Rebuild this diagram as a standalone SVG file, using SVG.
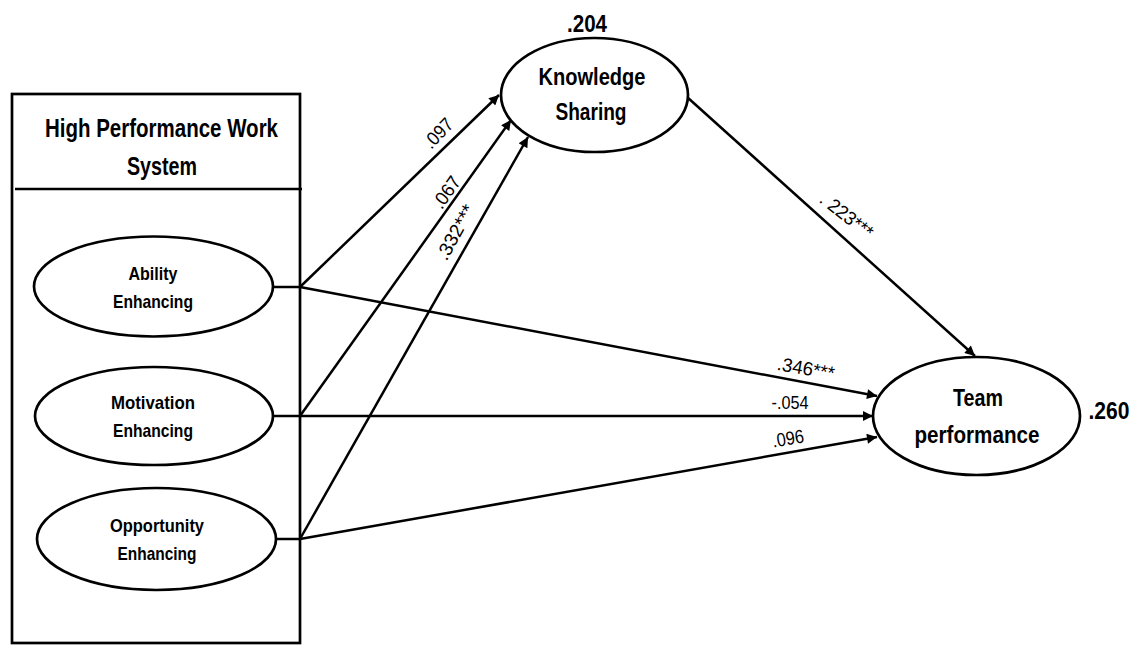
<svg xmlns="http://www.w3.org/2000/svg" width="1146" height="646" viewBox="0 0 1146 646">
  <defs>
    <marker id="arrow" viewBox="0 0 10 10" refX="10" refY="5" markerWidth="12" markerHeight="10" markerUnits="userSpaceOnUse" orient="auto">
      <path d="M0,0 L10,5 L0,10 z" fill="#000"/>
    </marker>
    <style>
      .shape { fill: #fff; stroke: #000; stroke-width: 2.7; }
      .frame { fill: none; stroke: #000; stroke-width: 2.7; }
      .edge { fill: none; stroke: #000; stroke-width: 2.5; }
      .arrowed { marker-end: url(#arrow); }
      .title { font-family: "Liberation Sans", Arial, sans-serif; font-weight: bold; font-size: 25px; text-anchor: middle; fill: #000; }
      .small { font-family: "Liberation Sans", Arial, sans-serif; font-weight: bold; font-size: 19px; text-anchor: middle; fill: #000; }
      .big { font-family: "Liberation Sans", Arial, sans-serif; font-weight: bold; font-size: 24px; text-anchor: middle; fill: #000; }
      .coef { font-family: "Liberation Sans", Arial, sans-serif; font-size: 19px; text-anchor: middle; fill: #000; }
    </style>
  </defs>
  <rect width="1146" height="646" fill="#fff"/>

  <!-- HPWS container box -->
  <g id="hpws">
    <rect class="frame" x="12" y="94" width="288" height="549"/>
    <line class="frame" x1="15" y1="189" x2="302" y2="189"/>
    <text class="title" x="161.5" y="137" textLength="233" lengthAdjust="spacingAndGlyphs">High Performance Work</text>
    <text class="title" x="162" y="175" textLength="70" lengthAdjust="spacingAndGlyphs">System</text>
  </g>

  <!-- connectors -->
  <g id="connectors">
    <line class="edge" x1="273" y1="287" x2="301" y2="287"/>
    <line class="edge" x1="273" y1="416" x2="301" y2="416"/>
    <line class="edge" x1="276" y1="539" x2="301" y2="539"/>
    <path class="edge arrowed" d="M300,287 L499,95"/>
    <path class="edge arrowed" d="M300,416 L511,120"/>
    <path class="edge arrowed" d="M300,539 L528,137"/>
    <path class="edge arrowed" d="M687,97 L975,356"/>
    <path class="edge arrowed" d="M300,287 L877,396"/>
    <path class="edge arrowed" d="M300,416 L873,416"/>
    <path class="edge arrowed" d="M300,539 L877,437"/>
  </g>

  <!-- path coefficients -->
  <g id="coefficients">
    <text class="coef" transform="translate(438,133) rotate(-46)" x="0" y="7" textLength="34" lengthAdjust="spacingAndGlyphs">.097</text>
    <text class="coef" transform="translate(446,192) rotate(-55)" x="0" y="7" textLength="35" lengthAdjust="spacingAndGlyphs">.067</text>
    <text class="coef" transform="translate(455,232) rotate(-61)" x="0" y="7" textLength="60" lengthAdjust="spacingAndGlyphs">.332***</text>
    <text class="coef" transform="translate(847,215) rotate(38)" x="0" y="7" textLength="62" lengthAdjust="spacingAndGlyphs">. 223***</text>
    <text class="coef" transform="translate(806,368) rotate(10)" x="0" y="7" textLength="58" lengthAdjust="spacingAndGlyphs">.346***</text>
    <text class="coef" x="790" y="409" textLength="37" lengthAdjust="spacingAndGlyphs">-.054</text>
    <text class="coef" transform="translate(788,438) rotate(-9)" x="0" y="7" textLength="32" lengthAdjust="spacingAndGlyphs">.096</text>
  </g>

  <g id="ability">
    <ellipse class="shape" cx="153.5" cy="286.5" rx="119.5" ry="50"/>
    <text class="small" x="153" y="280" textLength="49" lengthAdjust="spacingAndGlyphs">Ability</text>
    <text class="small" x="153" y="308" textLength="80" lengthAdjust="spacingAndGlyphs">Enhancing</text>
  </g>

  <g id="motivation">
    <ellipse class="shape" cx="154" cy="416" rx="119" ry="49"/>
    <text class="small" x="153" y="409" textLength="84" lengthAdjust="spacingAndGlyphs">Motivation</text>
    <text class="small" x="153" y="437" textLength="80" lengthAdjust="spacingAndGlyphs">Enhancing</text>
  </g>

  <g id="opportunity">
    <ellipse class="shape" cx="156.5" cy="539" rx="119.5" ry="51"/>
    <text class="small" x="157" y="532" textLength="94" lengthAdjust="spacingAndGlyphs">Opportunity</text>
    <text class="small" x="157" y="560" textLength="79" lengthAdjust="spacingAndGlyphs">Enhancing</text>
  </g>

  <g id="knowledge-sharing">
    <ellipse class="shape" cx="594.5" cy="95" rx="93.5" ry="57"/>
    <text class="big" x="592" y="85" textLength="107" lengthAdjust="spacingAndGlyphs">Knowledge</text>
    <text class="big" x="591" y="120" textLength="71" lengthAdjust="spacingAndGlyphs">Sharing</text>
    <text class="big" x="587" y="32" textLength="40" lengthAdjust="spacingAndGlyphs">.204</text>
  </g>

  <g id="team-performance">
    <ellipse class="shape" cx="976.5" cy="416" rx="103.5" ry="59"/>
    <text class="big" x="978" y="406" textLength="50" lengthAdjust="spacingAndGlyphs">Team</text>
    <text class="big" x="977" y="443" textLength="125" lengthAdjust="spacingAndGlyphs">performance</text>
    <text class="big" x="1109" y="419" textLength="41" lengthAdjust="spacingAndGlyphs">.260</text>
  </g>
</svg>
